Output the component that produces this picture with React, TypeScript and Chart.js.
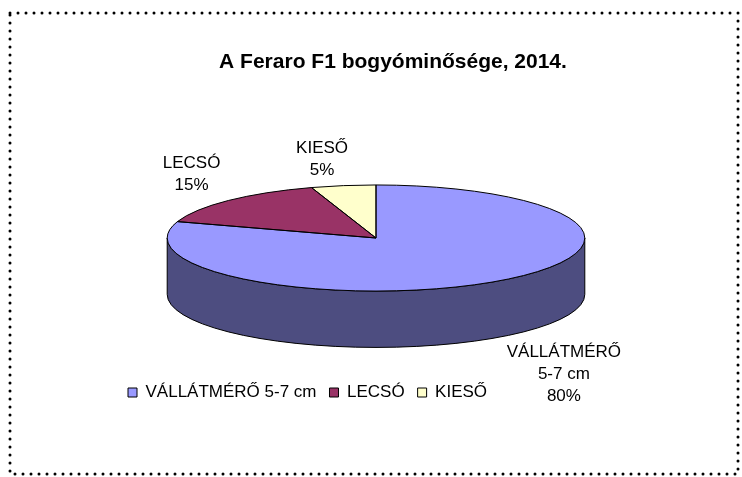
import React, { useEffect, useRef } from 'react';
import { Chart, registerables, DoughnutController } from 'chart.js';

Chart.register(...registerables);

// ---- data ----
const categories = ['VÁLLÁTMÉRŐ 5-7 cm', 'LECSÓ', 'KIESŐ'];
const sliceLabelLines = [['VÁLLÁTMÉRŐ', '5-7 cm'], ['LECSÓ'], ['KIESŐ']];
const shares = [80, 15, 5];
const sliceColors = ['#9999FF', '#993366', '#FFFFCC'];
const titleText = 'A Feraro F1 bogyóminősége, 2014.';

// ---- style ----
const FONT = '"Liberation Sans", Arial, Helvetica, sans-serif';
const VIEW = { spread: 1.57, tilt: 0.254, depth: 0.27 };

function shade(hex: string, f: number) {
  const h = hex.replace('#', '');
  const r = Math.round(parseInt(h.slice(0, 2), 16) * f);
  const g = Math.round(parseInt(h.slice(2, 4), 16) * f);
  const b = Math.round(parseInt(h.slice(4, 6), 16) * f);
  return `rgb(${r},${g},${b})`;
}

function ellipseOf(arc: any) {
  const p = arc.getProps(['x', 'y', 'startAngle', 'endAngle', 'outerRadius'], true);
  const rx = p.outerRadius * VIEW.spread;
  const ry = rx * VIEW.tilt;
  return { ...p, rx, ry, depth: rx * VIEW.depth };
}

const framePlugin = {
  id: 'excelFrame',
  beforeDraw(chart: any) {
    const ctx = chart.ctx;
    ctx.save();
    ctx.fillStyle = '#fff';
    ctx.fillRect(0, 0, chart.width, chart.height);
    ctx.setLineDash([0, 8]);
    ctx.lineCap = 'round';
    ctx.lineWidth = 3;
    ctx.strokeStyle = '#000';
    ctx.strokeRect(10, 13, chart.width - 14, chart.height - 16);
    ctx.restore();
  },
  afterDraw(chart: any, _a: any, o: any) {
    const ctx = chart.ctx;
    ctx.save();
    ctx.font = `bold ${o.size}px ${FONT}`;
    ctx.fillStyle = '#000';
    ctx.textAlign = 'center';
    ctx.textBaseline = 'middle';
    ctx.fillText(o.text, o.x, o.y);
    ctx.restore();
  },
};

const pie3dPlugin = {
  id: 'pie3d',
  beforeDatasetsDraw(chart: any) {
    const ctx = chart.ctx;
    const meta = chart.getDatasetMeta(0);
    meta.data.forEach((arc: any) => {
      const e = ellipseOf(arc);
      const color = shade(arc.options.backgroundColor, 0.5);
      for (let k = -1; k <= 1; k++) {
        const s = Math.max(e.startAngle, 2 * Math.PI * k);
        const t = Math.min(e.endAngle, 2 * Math.PI * k + Math.PI);
        if (t > s) {
          ctx.save();
          ctx.beginPath();
          ctx.ellipse(e.x, e.y, e.rx, e.ry, 0, s, t);
          ctx.ellipse(e.x, e.y + e.depth, e.rx, e.ry, 0, t, s, true);
          ctx.closePath();
          ctx.fillStyle = color;
          ctx.fill();
          ctx.lineWidth = 1;
          ctx.strokeStyle = '#000';
          ctx.stroke();
          ctx.restore();
        }
      }
    });
    const c = ellipseOf(meta.data[0]);
    ctx.save();
    ctx.translate(c.x, c.y);
    ctx.scale(VIEW.spread, VIEW.spread * VIEW.tilt);
    ctx.translate(-c.x, -c.y);
  },
  afterDatasetsDraw(chart: any) {
    const ctx = chart.ctx;
    ctx.restore();
    const meta = chart.getDatasetMeta(0);
    ctx.save();
    ctx.lineWidth = 1;
    ctx.strokeStyle = '#000';
    meta.data.forEach((arc: any) => {
      const e = ellipseOf(arc);
      ctx.beginPath();
      ctx.moveTo(e.x, e.y);
      ctx.ellipse(e.x, e.y, e.rx, e.ry, 0, e.startAngle, e.endAngle);
      ctx.closePath();
      ctx.stroke();
    });
    ctx.restore();
  },
};

const sliceLabelPlugin = {
  id: 'sliceLabels',
  afterDatasetsDraw(chart: any, _a: any, o: any) {
    const ctx = chart.ctx;
    const meta = chart.getDatasetMeta(0);
    const values = chart.data.datasets[0].data as number[];
    const total = values.reduce((a, b) => a + b, 0);
    ctx.save();
    ctx.font = `${o.size}px ${FONT}`;
    ctx.fillStyle = '#000';
    ctx.textAlign = 'center';
    ctx.textBaseline = 'middle';
    meta.data.forEach((arc: any, i: number) => {
      const e = ellipseOf(arc);
      const mid = (e.startAngle + e.endAngle) / 2;
      const cs = Math.cos(mid);
      const sn = Math.sin(mid);
      const px = e.x + e.rx * cs;
      const py = e.y + e.ry * sn + (sn > 0 ? e.depth : 0);
      const lines = [...sliceLabelLines[i], `${Math.round((values[i] / total) * 100)}%`];
      const hw = Math.max(...lines.map((l) => ctx.measureText(l).width)) / 2;
      const hh = (lines.length * o.lineHeight) / 2;
      const fx = Math.sign(cs) * Math.min(1, 4 * Math.abs(cs));
      const fy = Math.sign(sn) * Math.min(1, 4 * Math.abs(sn));
      const lx = px + fx * (hw + o.gapX);
      const ly = py + fy * (hh + o.gapY);
      lines.forEach((t, j) => ctx.fillText(t, lx, ly - hh + o.lineHeight * (j + 0.5)));
    });
    ctx.restore();
  },
};

export default function App() {
  const ref = useRef<HTMLCanvasElement>(null);
  useEffect(() => {
    if (!ref.current) return;
    Chart.defaults.font.family = FONT;
    const chart = new Chart(ref.current, {
      type: 'pie',
      data: {
        labels: categories,
        datasets: [
          {
            data: shares,
            backgroundColor: sliceColors,
            borderWidth: 0,
            clip: false as any,
          },
        ],
      },
      options: {
        responsive: false,
        animation: false,
        events: [],
        layout: { padding: { left: 115, right: 105, top: 105, bottom: 66 } },
        plugins: {
          tooltip: { enabled: false },
          title: { display: false },
          legend: {
            display: true,
            position: 'bottom',
            align: 'start',
            labels: {
              boxWidth: 9,
              boxHeight: 9,
              padding: 13,
              color: '#000',
              font: { size: 17, family: FONT },
              generateLabels: (c: any) =>
                (DoughnutController as any).overrides.plugins.legend.labels
                  .generateLabels(c)
                  .map((l: any) => ({ ...l, strokeStyle: '#000', lineWidth: 1 })),
            },
          },
          excelFrame: { text: titleText, size: 21, x: 393, y: 62 },
          sliceLabels: { size: 17, lineHeight: 22, gapX: 8, gapY: 4 },
        } as any,
      },
      plugins: [framePlugin, pie3dPlugin, sliceLabelPlugin],
    });
    return () => chart.destroy();
  }, []);
  return (
    <div style={{ position: 'absolute', left: 0, top: 0, width: 742, height: 477 }}>
      <canvas ref={ref} width={742} height={477} />
    </div>
  );
}
